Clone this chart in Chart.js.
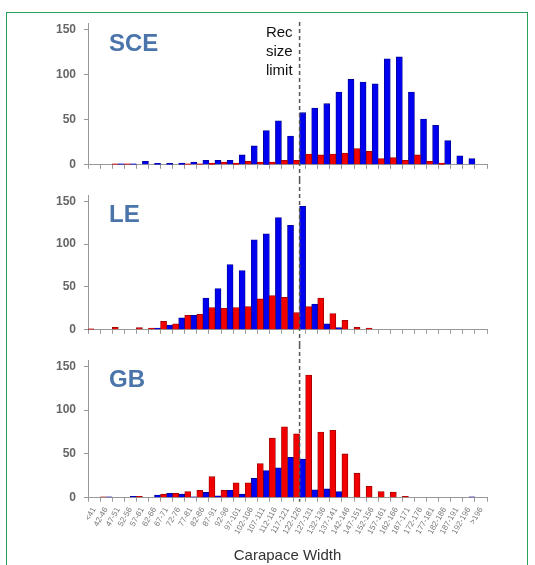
<!DOCTYPE html>
<html>
<head>
<meta charset="utf-8">
<script src="https://cdn.jsdelivr.net/npm/chart.js@4.4.1/dist/chart.umd.min.js"></script>
<style>
  body { margin: 0; background: #fff; }
  #frame { position: absolute; left: 6px; top: 12px; width: 520px; height: 600px; border: 1.5px solid #27a05a; }
  canvas { position: absolute; left: 0; }
</style>
</head>
<body>
<div id="frame"></div>
<canvas id="c1" width="535" height="180" style="top:0px"></canvas>
<canvas id="c2" width="535" height="165" style="top:180px"></canvas>
<canvas id="c3" width="535" height="220" style="top:345px"></canvas>
<script>
// size classes (carapace width, mm)
const widthClasses = ['<41'];
for (let lo = 42; lo <= 192; lo += 5) widthClasses.push(lo + '-' + (lo + 4));
widthClasses.push('>196');

const yTicks = [0, 50, 100, 150];
const recLimitIndex = 17;

// SCE
const sceRed  = [0,0,1,1,0,0,0,0,1,1,2,3,2,4,3,3,5,5,12,11,12,13,18,15,7,8,5,11,4,2,0,0,0];
const sceBlue = [0,0,1,1,4,1.5,1.5,2,3,5,5,5,11,21,38,49,32,58,63,68,81,95,92,90,118,120,81,51,44,27,10,7,0];
// LE
const leRed   = [1,0,3,0,2.5,2,10,7,17,18,26,25,26,27,36,40,38,20,27,37,19,11,3,2,0,0,0,0,0,0,0,0,0];
const leBlue  = [0,0,0,0,0,2,5.5,14,17,37,48,76,69,105,112,131,122,144,30,7,2.5,0,0,0,0,0,0,0,0,0,0,0,0];
// GB
const gbRed   = [0,1,0,0,1.5,0,4,5,7,8.5,24,8.5,17,17,39,68,81,73,140,75,77,50,28,13,7,6.5,1.5,0,0,0,0,0,0];
const gbBlue  = [0,1,0,1.5,0,3,5,4,1,6,2,8.5,4,22,31,34,46,44,9,10,7,0,0,0,0,0,0,0,0,0,0,1,0];

const font = '"Liberation Sans", Arial, sans-serif';

function makePanel(id, title, red, blue, cfg) {
  const panelPlugin = {
    id: 'panel_' + id,
    afterDraw(chart) {
      const ctx = chart.ctx;
      const xs = chart.scales.x;
      const area = chart.chartArea;
      const lx = xs.getPixelForValue(recLimitIndex);
      ctx.save();
      ctx.strokeStyle = '#555';
      ctx.lineWidth = 1.5;
      ctx.setLineDash([4, 3]);
      ctx.beginPath();
      ctx.moveTo(lx, cfg.lineTop(chart));
      ctx.lineTo(lx, cfg.lineBottom(chart));
      ctx.stroke();
      ctx.setLineDash([]);
      // panel name
      ctx.fillStyle = '#4a74aa';
      ctx.font = 'bold 24px ' + font;
      ctx.textAlign = 'left';
      ctx.textBaseline = 'alphabetic';
      ctx.fillText(title, area.left + 21, area.top + 27);
      if (cfg.recText) {
        ctx.fillStyle = '#111';
        ctx.font = '15px ' + font;
        ctx.textAlign = 'right';
        ['Rec', 'size', 'limit'].forEach((t, i) => {
          ctx.fillText(t, lx - 7, 37 + i * 19);
        });
      }
      ctx.restore();
    }
  };

  return new Chart(document.getElementById(id), {
    type: 'bar',
    data: {
      labels: widthClasses,
      datasets: [
        { data: red, backgroundColor: '#f20000', borderColor: '#990000', borderWidth: 0.8 },
        { data: blue, backgroundColor: '#0000f0', borderColor: '#000090', borderWidth: 0.8 }
      ]
    },
    options: {
      responsive: false,
      animation: false,
      devicePixelRatio: 1,
      categoryPercentage: 1.0,
      barPercentage: 1.0,
      layout: { padding: { left: 0, right: 48, top: cfg.padTop, bottom: 0 } },
      plugins: { legend: { display: false }, tooltip: { enabled: false } },
      scales: {
        x: {
          grid: { drawOnChartArea: false, offset: true, tickLength: 4, color: '#999' },
          border: { color: '#999', width: 1 },
          ticks: {
            display: cfg.showLabels,
            autoSkip: false,
            minRotation: 60,
            maxRotation: 60,
            padding: 4,
            color: '#777',
            font: { family: font, size: 8 }
          },
          title: {
            display: cfg.showLabels,
            text: 'Carapace Width',
            color: '#333',
            font: { family: font, size: 15 },
            padding: { top: 4, bottom: 0 }
          },
          afterFit(s) { s.height = cfg.xHeight; }
        },
        y: {
          min: 0,
          max: 157,
          afterBuildTicks(s) { s.ticks = yTicks.map(v => ({ value: v })); },
          grid: { drawOnChartArea: false, tickLength: 4, color: '#999' },
          border: { color: '#999', width: 1 },
          ticks: { padding: 8, color: '#666', font: { family: font, size: 12, weight: 'bold' } },
          afterFit(s) { s.width = 88; }
        }
      }
    },
    plugins: [panelPlugin]
  });
}

makePanel('c1', 'SCE', sceRed, sceBlue, {
  padTop: 23.7, xHeight: 13, showLabels: false, recText: true,
  lineTop: () => 22, lineBottom: ch => ch.height
});
makePanel('c2', 'LE', leRed, leBlue, {
  padTop: 9.7, xHeight: 13.5, showLabels: false, recText: false,
  lineTop: () => 0, lineBottom: ch => ch.height
});
makePanel('c3', 'GB', gbRed, gbBlue, {
  padTop: 9.4, xHeight: 67.3, showLabels: true, recText: false,
  lineTop: () => 0, lineBottom: ch => ch.chartArea.bottom + 4
});
</script>
</body>
</html>
